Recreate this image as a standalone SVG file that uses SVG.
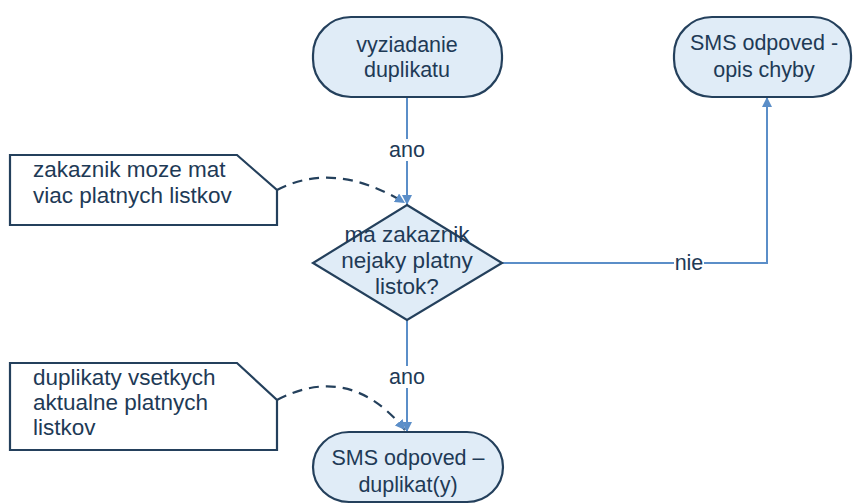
<svg xmlns="http://www.w3.org/2000/svg" width="853" height="504" viewBox="0 0 853 504">
<style>
.node{fill:#e0ecf7;stroke:#24405c;stroke-width:2.2}
.call{fill:#ffffff;stroke:#24405c;stroke-width:2.2}
.t{font-family:"Liberation Sans",Arial,sans-serif;font-size:21.5px;fill:#1e3a56;text-anchor:middle}
.td{font-family:"Liberation Sans",Arial,sans-serif;font-size:22.5px;fill:#1e3a56;text-anchor:middle}
.tl{font-family:"Liberation Sans",Arial,sans-serif;font-size:22.5px;fill:#1e3a56}
.conn{fill:none;stroke:#5b8ec8;stroke-width:2}
.dash{fill:none;stroke:#24405c;stroke-width:2.2;stroke-dasharray:10 7}
.lbl{fill:#ffffff}
</style>
<defs>
<marker id="ah" viewBox="0 0 10 10" refX="10" refY="5" markerWidth="10" markerHeight="10" markerUnits="userSpaceOnUse" orient="auto">
<path d="M0,0 L10,5 L0,10 z" fill="#5b8ec8"/>
</marker>
</defs>
<rect width="853" height="504" fill="#ffffff"/>
<g id="connectors">
<path class="conn" d="M407,97 L407,205" marker-end="url(#ah)"/>
<path class="conn" d="M502,263 L767,263 L767,97" marker-end="url(#ah)"/>
<path class="conn" d="M407,320 L407,432" marker-end="url(#ah)"/>
<path class="dash" d="M277,190 Q335,160 405,203" marker-end="url(#ah)"/>
<path class="dash" d="M277,400 Q350,362 405,430" marker-end="url(#ah)"/>
<rect class="lbl" x="388" y="139" width="38" height="22"/>
<text class="t" x="407" y="157">ano</text>
<rect class="lbl" x="388" y="366" width="38" height="22"/>
<text class="t" x="407" y="384">ano</text>
<rect class="lbl" x="674" y="254" width="30" height="20"/>
<text class="t" x="689" y="270">nie</text>
</g>
<g id="start">
<rect class="node" x="313" y="17" width="189" height="80" rx="38" ry="38"/>
<text class="t" x="407" y="52">vyziadanie</text>
<text class="t" x="407" y="77">duplikatu</text>
</g>
<g id="error">
<rect class="node" x="674" y="17" width="177" height="80" rx="38" ry="38"/>
<text class="t" x="764" y="50">SMS odpoved -</text>
<text class="t" x="764" y="77">opis chyby</text>
</g>
<g id="decision">
<polygon class="node" points="407,205 502,263 407,320 313,263"/>
<text class="td" x="407" y="242">ma zakaznik</text>
<text class="td" x="407" y="268">nejaky platny</text>
<text class="td" x="407" y="294">listok?</text>
</g>
<g id="result">
<rect class="node" x="313" y="432" width="190" height="70" rx="36" ry="36"/>
<text class="t" x="408" y="465">SMS odpoved –</text>
<text class="t" x="408" y="492">duplikat(y)</text>
</g>
<g id="note1">
<path class="call" d="M10,155 L237,155 L277,190 L277,225 L10,225 Z"/>
<text class="tl" x="33" y="177">zakaznik moze mat</text>
<text class="tl" x="33" y="203">viac platnych listkov</text>
</g>
<g id="note2">
<path class="call" d="M10,363 L237,363 L277,400 L277,450 L10,450 Z"/>
<text class="tl" x="33" y="385">duplikaty vsetkych</text>
<text class="tl" x="33" y="410">aktualne platnych</text>
<text class="tl" x="33" y="435">listkov</text>
</g>
</svg>
